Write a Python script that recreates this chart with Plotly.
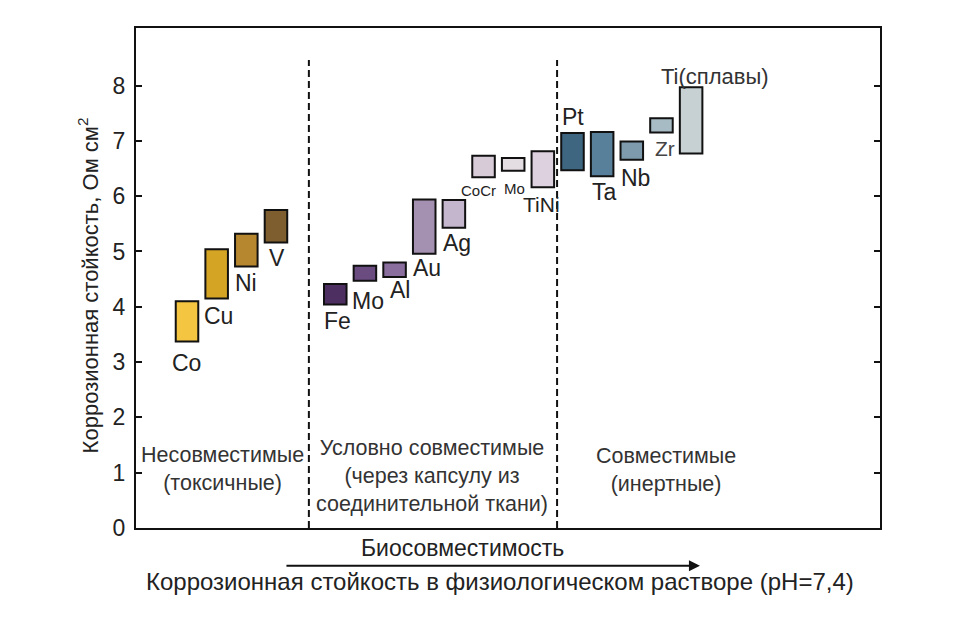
import plotly.graph_objects as go

# ---- data ----
metals = ["Co", "Cu", "Ni", "V", "Fe", "Mo", "Al", "Au", "Ag", "CoCr", "Mo", "TiNi",
          "Pt", "Ta", "Nb", "Zr", "Ti(сплавы)"]
order_slot = [0, 1, 2, 3, 5, 6, 7, 8, 9, 10, 11, 12, 13, 14, 15, 16, 17]
low_vals = [3.37, 4.15, 4.73, 5.16, 4.04, 4.47, 4.54, 4.96, 5.43, 6.34, 6.46, 6.16,
            6.47, 6.36, 6.66, 7.15, 6.77]
high_vals = [4.10, 5.04, 5.32, 5.75, 4.41, 4.74, 4.80, 5.94, 5.93, 6.73, 6.69, 6.81,
             7.14, 7.16, 6.99, 7.41, 7.97]
y_ticks = [0, 1, 2, 3, 4, 5, 6, 7, 8]
group_bounds = [4.11, 12.48]
group_texts = ["Несовместимые<br>(токсичные)",
               "Условно совместимые<br>(через капсулу из<br>соединительной ткани)",
               "Совместимые<br>(инертные)"]

# ---- styles ----
colors = ["#F4C540", "#D4A524", "#B6872F", "#7E5E2E",
          "#4E2F62", "#6A4C80", "#8A6E9E", "#A491B1", "#C4B6CC", "#D7CBD8", "#E4DEE2", "#DDD1E0",
          "#3F6680", "#58809A", "#7D9BAD", "#A7BBC5", "#C7D1D4"]
FONT = "Liberation Sans, Arial, sans-serif"
# label placement: (anchor 'low'/'high', dx px, dy px, font size, color)
label_style = [("low", -1, -21, 23, "#222"), ("low", 2, -18, 23, "#222"),
               ("low", 0, -17, 23, "#222"), ("low", 1, -15, 23, "#222"),
               ("low", 2, -16, 23, "#222"), ("low", 3, -20, 23, "#222"),
               ("low", 5, -13, 23, "#222"), ("low", 3, -14, 23, "#222"),
               ("low", 3, -15, 23, "#222"), ("low", -5, -13, 15, "#222"),
               ("low", 1, -18, 15, "#222"), ("low", -1, -17, 21, "#222"),
               ("high", 0, 16, 23, "#222"), ("low", 2, -16, 23, "#222"),
               ("low", 4, -18, 23, "#222"), ("low", 4, -16, 21, "#444"),
               ("high", 24, 11, 22, "#333")]

fig = go.Figure()
fig.add_trace(go.Bar(
    x=order_slot,
    y=[h - l for h, l in zip(high_vals, low_vals)],
    base=low_vals,
    width=0.76,
    marker=dict(color=colors, line=dict(color="#111", width=2)),
    hoverinfo="skip",
))

annotations = []
for i, name in enumerate(metals):
    side, dx, dy, fs, col = label_style[i]
    yv = low_vals[i] if side == "low" else high_vals[i]
    annotations.append(dict(x=order_slot[i], y=yv, xref="x", yref="y", text=name,
                            showarrow=False, xanchor="center", yanchor="middle",
                            xshift=dx, yshift=dy, font=dict(size=fs, color=col, family=FONT)))

# dashed separators
shapes = []
for gb in group_bounds:
    shapes.append(dict(type="line", xref="x", yref="y", x0=gb, x1=gb, y0=0, y1=8.46,
                       line=dict(color="#111", width=2, dash="7px,4px")))

# group texts (paper coords)
group_pos = [(0.1165, 0.118), (0.3985, 0.105), (0.713, 0.117)]
for (gx, gy), t in zip(group_pos, group_texts):
    annotations.append(dict(x=gx, y=gy, xref="paper", yref="paper", text=t, showarrow=False,
                            xanchor="center", yanchor="middle", align="center",
                            font=dict(size=21.5, color="#333", family=FONT)))

# y-axis title
annotations.append(dict(x=-0.064, y=0.486, xref="paper", yref="paper",
                        text="Коррозионная стойкость, Ом см<sup>2</sup>", textangle=-90,
                        showarrow=False, xanchor="center", yanchor="middle",
                        font=dict(size=22, color="#222", family=FONT)))

# bottom texts and arrow
annotations.append(dict(x=0.4395, y=-0.04, xref="paper", yref="paper", text="Биосовместимость",
                        showarrow=False, xanchor="center", yanchor="middle",
                        font=dict(size=23, color="#222", family=FONT)))
annotations.append(dict(x=0.758, y=-0.0754, xref="paper", yref="paper", text="",
                        showarrow=True, ax=-415, ay=0, arrowhead=2, arrowsize=1.1,
                        arrowwidth=2, arrowcolor="#111"))
annotations.append(dict(x=0.489, y=-0.107, xref="paper", yref="paper",
                        text="Коррозионная стойкость в физиологическом растворе (pH=7,4)",
                        showarrow=False, xanchor="center", yanchor="middle",
                        font=dict(size=24, color="#222", family=FONT)))

fig.update_layout(
    width=960, height=619,
    margin=dict(l=136, r=80, t=28, b=91),
    plot_bgcolor="white", paper_bgcolor="white",
    showlegend=False,
    shapes=shapes,
    annotations=annotations,
    font=dict(family=FONT, color="#222"),
    xaxis=dict(range=[-1.72, 23.37], showgrid=False, zeroline=False, showticklabels=False,
               ticks="", showline=True, linecolor="#111", linewidth=2, mirror=True),
    yaxis=dict(range=[0, 9.04], tickvals=y_ticks, ticks="inside", ticklen=6, tickwidth=2,
               tickcolor="#111", showgrid=False, zeroline=False, showline=True,
               linecolor="#111", linewidth=2, mirror="ticks", ticklabelstandoff=4,
               tickfont=dict(size=23, color="#222", family=FONT)),
)

fig.write_html("out.html")
